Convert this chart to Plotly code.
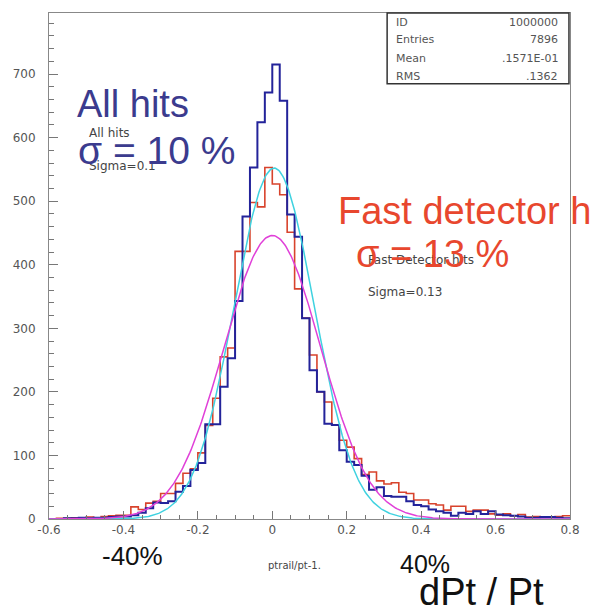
import numpy as np
import plotly.graph_objects as go

# ---------------- data ----------------
bin_start = -0.6
bin_width = 0.02
# counts per 0.02 bin, starting at -0.60 (70 bins up to 0.80)
all_hits = [0, 0, 1, 1, 2, 1, 2, 2, 3, 4,
            4, 6, 10, 17, 26, 25, 28, 43, 52, 77,
            88, 149, 149, 208, 253, 343, 476, 553, 624, 671,
            715, 658, 479, 444, 316, 234, 200, 150, 148, 108,
            90, 85, 68, 46, 50, 36, 35, 35, 28, 22,
            20, 15, 12, 10, 5, 10, 8, 12, 8, 12,
            7, 6, 5, 4, 2, 2, 3, 3, 2, 1]
fast_hits = [0, 1, 1, 2, 2, 3, 2, 4, 5, 6,
             6, 19, 15, 25, 28, 40, 40, 56, 72, 79,
             104, 147, 190, 255, 269, 421, 421, 498, 491, 553,
             527, 510, 451, 362, 316, 258, 200, 184, 148, 124,
             113, 95, 70, 74, 60, 55, 57, 42, 40, 30,
             30, 24, 22, 14, 20, 20, 12, 14, 14, 8,
             6, 8, 5, 7, 3, 4, 3, 3, 4, 5]

# Gaussian fit parameters (amplitude, mean, sigma)
fit_all = (552, 0.005, 0.108)
fit_fast = (446, 0.0, 0.13)

x_tickvals = [-0.6, -0.4, -0.2, 0, 0.2, 0.4, 0.6, 0.8]
x_ticktext = ["-0.6", "-0.4", "-0.2", "0", "0.2", "0.4", "0.6", "0.8"]
y_tickvals = [0, 100, 200, 300, 400, 500, 600, 700]

stats_labels = ["ID", "Entries", "Mean", "RMS"]
stats_values = ["1000000", "7896", ".1571E-01", ".1362"]

# ---------------- figure ----------------
n = len(all_hits)
edges = np.round(bin_start + bin_width * np.arange(n + 1), 4)

def step_y(vals):
    return list(vals) + [vals[-1]]

fig = go.Figure()
fig.add_trace(go.Scatter(x=edges, y=step_y(fast_hits), mode="lines",
                         line=dict(shape="hv", color="#d8432c", width=1.6),
                         showlegend=False))
fig.add_trace(go.Scatter(x=edges, y=step_y(all_hits), mode="lines",
                         line=dict(shape="hv", color="#23239a", width=2),
                         showlegend=False))

xs = np.linspace(-0.6, 0.8, 500)
for (A, mu, sg), col in ((fit_all, "#3fd2e0"), (fit_fast, "#e040d8")):
    fig.add_trace(go.Scatter(x=xs, y=A * np.exp(-0.5 * ((xs - mu) / sg) ** 2),
                             mode="lines", line=dict(color=col, width=1.5),
                             showlegend=False))

fig.update_layout(
    width=592, height=613,
    margin=dict(l=49, r=13, t=13, b=94),
    plot_bgcolor="white", paper_bgcolor="white",
    font=dict(family="DejaVu Sans", size=12, color="#555"),
)
fig.update_xaxes(range=[-0.6, 0.8], tickvals=x_tickvals, ticktext=x_ticktext,
                 ticks="inside", ticklen=8, tickcolor="#777",
                 minor=dict(dtick=0.05, tick0=-0.6, ticks="inside", ticklen=4, tickcolor="#777"),
                 showline=True, mirror=True, linecolor="#888", linewidth=1,
                 showgrid=False, zeroline=False,
                 tickfont=dict(family="DejaVu Sans", size=12, color="#555"))
fig.update_yaxes(range=[0, 796], tickvals=y_tickvals,
                 ticks="inside", ticklen=9, tickcolor="#777",
                 minor=dict(dtick=20, tick0=0, ticks="inside", ticklen=5, tickcolor="#777"),
                 showline=True, mirror=True, linecolor="#888", linewidth=1,
                 showgrid=False, zeroline=False, ticklabelstandoff=10,
                 tickfont=dict(family="DejaVu Sans", size=12, color="#555"))

# stats box
fig.add_shape(type="rect", xref="paper", yref="paper", x0=0.649, x1=0.998, y0=0.860, y1=1.0,
              line=dict(color="#333", width=1.5), fillcolor="white")
rows_y = [0.982, 0.947, 0.911, 0.875]
for lab, val, yy in zip(stats_labels, stats_values, rows_y):
    fig.add_annotation(xref="paper", yref="paper", x=0.663, y=yy, text=lab, showarrow=False,
                       xanchor="left", yanchor="middle", font=dict(size=11, color="#555"))
    fig.add_annotation(xref="paper", yref="paper", x=0.98, y=yy, text=val, showarrow=False,
                       xanchor="right", yanchor="middle", font=dict(size=11, color="#555"))

def ann(x, y, text, size, color, family="Liberation Sans"):
    fig.add_annotation(xref="paper", yref="paper", x=x, y=y, text=text, showarrow=False,
                       xanchor="left", yanchor="middle",
                       font=dict(family=family, size=size, color=color))

navy = "#3b3b8e"
orange = "#e8472e"
ann(0.050, 0.820, "All hits", 38, navy)
ann(0.072, 0.763, "All hits", 12, "#444", "DejaVu Sans")
ann(0.072, 0.698, "Sigma=0.1", 12, "#444", "DejaVu Sans")
ann(0.052, 0.729, "σ = 10 %", 39, navy)
ann(0.550, 0.609, "Fast detector hits", 38, orange)
ann(0.608, 0.512, "Fast Detector hits", 12, "#444", "DejaVu Sans")
ann(0.608, 0.449, "Sigma=0.13", 12, "#444", "DejaVu Sans")
ann(0.585, 0.524, "σ = 13 %", 38, orange)

ann(0.098, -0.073, "-40%", 26, "#111")
ann(0.417, -0.091, "ptrail/pt-1.", 10, "#444", "DejaVu Sans")
ann(0.670, -0.089, "40%", 25, "#111")
ann(0.706, -0.144, "dPt / Pt", 38, "#111")

fig.write_html("out.html")
